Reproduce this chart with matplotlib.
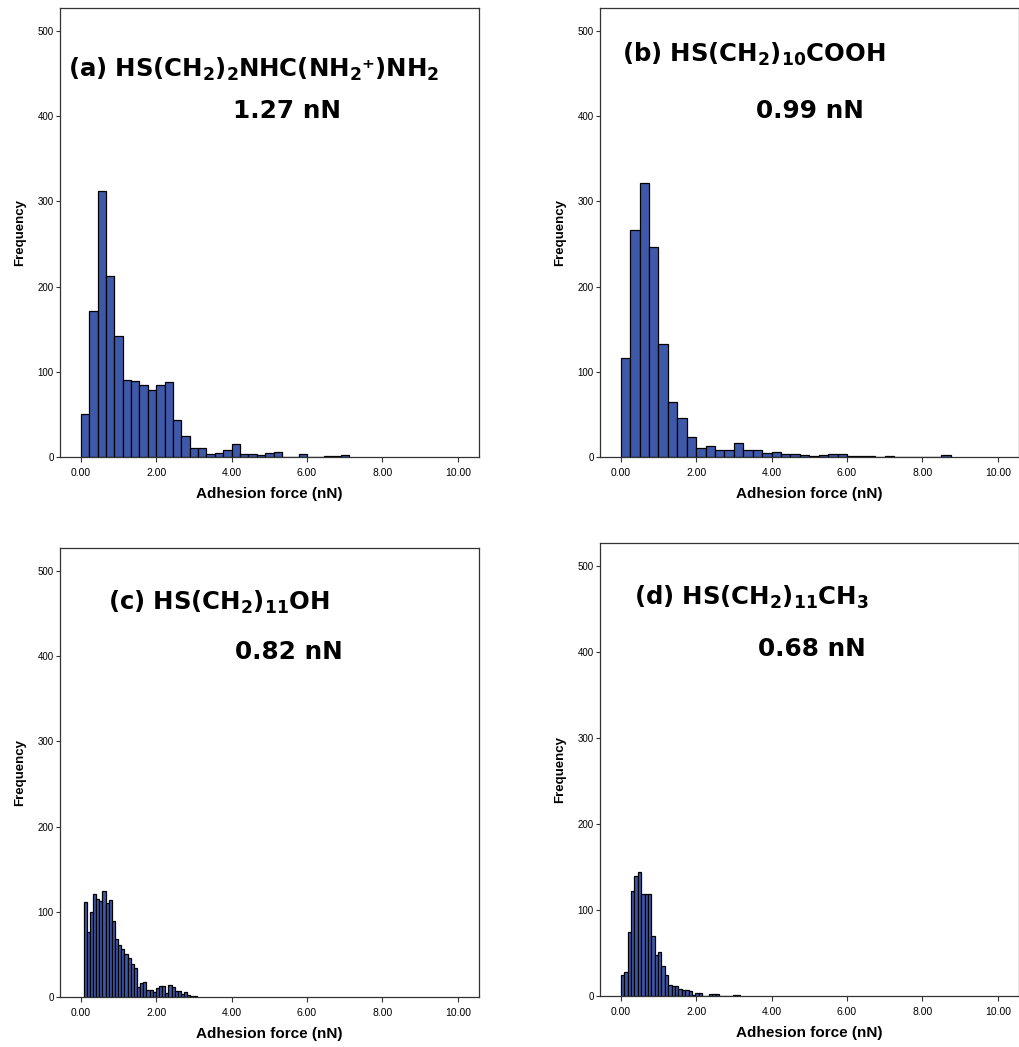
import matplotlib
matplotlib.use('Agg')
import matplotlib.pyplot as plt
import numpy as np

plt.rcParams['font.family'] = ['Liberation Sans', 'DejaVu Sans']
plt.rcParams['mathtext.fontset'] = 'dejavusans'

# Histogram counts per bin for each monolayer (bin start, bin width, counts)
a_start, a_width = 0.0, 2.0 / 9
a_counts = [51, 171, 312, 213, 142, 90, 89, 85, 79, 84, 88, 43, 25, 11, 10, 4,
            5, 8, 15, 3, 4, 2, 5, 6, 0, 0, 3, 0, 0, 1, 1, 2]

b_start, b_width = 0.0, 0.25
b_counts = [116, 266, 322, 246, 133, 64, 46, 23, 10, 13, 8, 8, 16, 8, 8, 5,
            6, 3, 4, 2, 1, 2, 3, 3, 1, 1, 1, 0, 1, 0, 0, 0, 0, 0, 2]

c_start, c_width = 0.075, 1.0 / 12
c_counts = [111, 76, 100, 121, 115, 113, 125, 110, 114, 89, 68, 61, 56, 50, 46, 39,
            34, 12, 17, 18, 8, 8, 6, 11, 13, 13, 5, 14, 12, 7, 7, 3, 6, 2, 1, 1]

d_start, d_width = 0.0, 0.09
d_counts = [24, 28, 75, 122, 140, 144, 119, 119, 119, 70, 48, 51, 35, 24, 13, 12,
            12, 8, 7, 7, 6, 1, 3, 3, 0, 0, 2, 2, 2, 0, 0, 0, 0, 1, 1]

labels = [r'$\mathbf{(a)\ HS(CH_2)_2NHC(NH_2⁺)NH_2}$',
          r'$\mathbf{(b)\ HS(CH_2)_{10}COOH}$',
          r'$\mathbf{(c)\ HS(CH_2)_{11}OH}$',
          r'$\mathbf{(d)\ HS(CH_2)_{11}CH_3}$']
forces = ['1.27 nN', '0.99 nN', '0.82 nN', '0.68 nN']

xticks = [0, 2, 4, 6, 8, 10]
yticks = [0, 100, 200, 300, 400, 500]

W, H = 1019, 1047
fig = plt.figure(figsize=(W / 100, H / 100), dpi=100)

# axes boxes in pixels: left, top, width, height
boxes = [(60, 8, 419, 449), (600, 8, 419, 449),
         (60, 548, 419, 449), (600, 543, 419, 453)]
# text anchors in pixels (x, baseline y)
name_pos = [(68, 77), (622, 62), (108, 610), (634, 605)]
force_pos = [(287, 118), (810, 118), (289, 659), (812, 656)]

data = [(a_start, a_width, a_counts), (b_start, b_width, b_counts),
        (c_start, c_width, c_counts), (d_start, d_width, d_counts)]

for i, (start, width, counts) in enumerate(data):
    l, t, w, h = boxes[i]
    ax = fig.add_axes([l / W, 1 - (t + h) / H, w / W, h / H])
    edges = start + width * np.arange(len(counts))
    ax.bar(edges, counts, width=width, align='edge', color='#3f59aa',
           edgecolor='black', linewidth=0.9)
    ax.set_xlim(-0.55, 10.56)
    ax.set_ylim(0, 527)
    ax.set_xticks(xticks)
    ax.set_xticklabels([f'{v:.2f}' for v in xticks])
    ax.set_yticks(yticks)
    ax.tick_params(axis='x', labelsize=7.5, length=3.6, width=0.8, pad=4, color='#333333')
    ax.tick_params(axis='y', labelsize=7, length=3, width=0.8, pad=1.5, color='#333333')
    for s in ax.spines.values():
        s.set_linewidth(0.9)
        s.set_color('#333333')
    ax.set_xlabel('Adhesion force (nN)', fontsize=11, fontweight='bold', labelpad=7)
    ax.set_ylabel('Frequency', fontsize=9.5, fontweight='bold', labelpad=8)

    nx, ny = name_pos[i]
    fig.text(nx / W, 1 - ny / H, labels[i], fontsize=17.6, va='baseline', ha='left')
    fx, fy = force_pos[i]
    fig.text(fx / W, 1 - fy / H, forces[i], fontsize=17.8, fontweight='bold',
             family='DejaVu Sans', va='baseline', ha='center')

fig.savefig('out.png', dpi=100)
